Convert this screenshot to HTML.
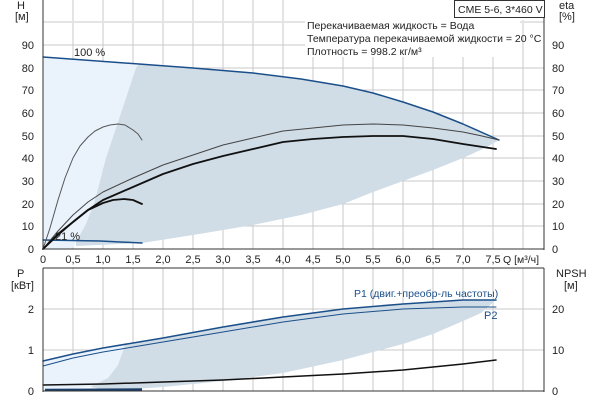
<!DOCTYPE html>
<html><head><meta charset="utf-8"><style>
body{margin:0;background:#fff;}
svg{display:block;font-family:"Liberation Sans",sans-serif;}
</style></head><body>
<svg width="600" height="400" viewBox="0 0 600 400">
<g stroke="#c8c8c8" stroke-width="1">
<line x1="73" y1="0" x2="73" y2="249"/><line x1="103" y1="0" x2="103" y2="249"/><line x1="133" y1="0" x2="133" y2="249"/><line x1="163" y1="0" x2="163" y2="249"/><line x1="193" y1="0" x2="193" y2="249"/><line x1="223" y1="0" x2="223" y2="249"/><line x1="253" y1="0" x2="253" y2="249"/><line x1="283" y1="0" x2="283" y2="249"/><line x1="313" y1="57" x2="313" y2="249"/><line x1="343" y1="57" x2="343" y2="249"/><line x1="373" y1="57" x2="373" y2="249"/><line x1="403" y1="57" x2="403" y2="249"/><line x1="433" y1="57" x2="433" y2="249"/><line x1="463" y1="57" x2="463" y2="249"/><line x1="493" y1="57" x2="493" y2="249"/><line x1="523" y1="20" x2="523" y2="249"/>
<line x1="43" y1="226" x2="544" y2="226"/><line x1="43" y1="204" x2="544" y2="204"/><line x1="43" y1="181" x2="544" y2="181"/><line x1="43" y1="158" x2="544" y2="158"/><line x1="43" y1="136" x2="544" y2="136"/><line x1="43" y1="113" x2="544" y2="113"/><line x1="43" y1="90" x2="544" y2="90"/><line x1="43" y1="68" x2="544" y2="68"/><line x1="43" y1="45" x2="305" y2="45"/>
</g>
<g stroke="#e4e4e4" stroke-width="2"><line x1="43" y1="22" x2="305" y2="22"/><line x1="520" y1="22" x2="544" y2="22"/></g>
<polygon points="43,57 139,64 136,68 121,113 106,158 94,204 85,226 76,242 72,249 43,249" fill="#eaf3fc"/>
<polygon points="139,64 193,68 253,73 301,79 343,86 373,93 403,102 433,112 463,124 499,140 487,147 463,158 433,170 403,181 373,192 343,204 301,215 253,225 193,235 142,243 76,246 76,242 85,226 94,204 106,158 121,113 136,68" fill="#d0dce6"/>
<g fill="none" stroke-linejoin="round" stroke-linecap="round">
<polyline points="43,57 139,64 193,68 253,73 301,79 343,86 373,93 403,102 433,112 463,124 499,140" stroke="#1b4f8a" stroke-width="1.5"/>
<polyline points="43,240 100,241 142,243" stroke="#1b4f8a" stroke-width="1.5"/>
<polyline points="43,249 50,228 58,200 65,178 73,158 80,146 88,137 95,131 103,127 110,125 118,124 125,125 133,130 138,134 142,140" stroke="#555" stroke-width="1"/>
<polyline points="43,249 58,235 73,222 88,210 103,203 113,200 124,199 133,200 142,204" stroke="#111" stroke-width="1.8"/>
<polyline points="43,249 58,231 73,215 88,202 103,192 133,178 163,165 193,155 223,145 253,138 283,131 313,128 343,125 373,124 403,125 433,128 463,132 482,136 499,140" stroke="#444" stroke-width="1"/>
<polyline points="43,249 58,234 73,222 88,210 103,200 133,187 163,174 193,164 223,156 253,149 283,142 313,139 343,137 373,136 403,136 433,139 463,144 496,149" stroke="#111" stroke-width="1.8"/>
</g>
<g stroke="#333" stroke-width="1"><line x1="43" y1="0" x2="43" y2="250"/><line x1="544" y1="0" x2="544" y2="250"/><line x1="43" y1="249" x2="544" y2="249"/></g>
<g font-size="11" fill="#222" text-anchor="end">
<text x="34" y="253">0</text><text x="34" y="230">10</text><text x="34" y="208">20</text><text x="34" y="185">30</text><text x="34" y="162">40</text><text x="34" y="140">50</text><text x="34" y="117">60</text><text x="34" y="94">70</text><text x="34" y="72">80</text><text x="34" y="49">90</text>
</g>
<g font-size="11" fill="#222"><text x="552" y="253">0</text><text x="552" y="230">10</text><text x="552" y="208">20</text><text x="552" y="185">30</text><text x="552" y="162">40</text><text x="552" y="140">50</text><text x="552" y="117">60</text><text x="552" y="94">70</text><text x="552" y="72">80</text><text x="552" y="49">90</text>
<text x="559" y="9">eta</text><text x="559" y="20">[%]</text><text x="17" y="9">H</text><text x="15" y="20">[м]</text>
<text x="74" y="56">100 %</text><text x="55" y="240">21 %</text>
</g>
<g font-size="10.5" fill="#222">
<text x="307" y="29">Перекачиваемая жидкость = Вода</text>
<text x="307" y="42">Температура перекачиваемой жидкости = 20 °C</text>
<text x="307" y="55">Плотность = 998.2 кг/м³</text>
</g>
<rect x="454.5" y="0.5" width="90" height="17" fill="#fff" stroke="#333"/>
<text x="458" y="13" font-size="10.5" fill="#222">CME 5-6, 3*460 V</text>
<g font-size="11" fill="#222" text-anchor="middle">
<text x="43" y="263">0</text><text x="73" y="263">0,5</text><text x="103" y="263">1,0</text><text x="133" y="263">1,5</text><text x="163" y="263">2,0</text><text x="193" y="263">2,5</text><text x="223" y="263">3,0</text><text x="253" y="263">3,5</text><text x="283" y="263">4,0</text><text x="313" y="263">4,5</text><text x="343" y="263">5,0</text><text x="373" y="263">5,5</text><text x="403" y="263">6,0</text><text x="433" y="263">6,5</text><text x="463" y="263">7,0</text><text x="493" y="263">7,5</text>
</g>
<text x="503" y="263" font-size="10.5" fill="#222">Q [м³/ч]</text>
<g stroke="#c8c8c8" stroke-width="1">
<line x1="73" y1="268" x2="73" y2="391"/><line x1="103" y1="268" x2="103" y2="391"/><line x1="133" y1="268" x2="133" y2="391"/><line x1="163" y1="268" x2="163" y2="391"/><line x1="193" y1="268" x2="193" y2="391"/><line x1="223" y1="268" x2="223" y2="391"/><line x1="253" y1="268" x2="253" y2="391"/><line x1="283" y1="268" x2="283" y2="391"/><line x1="313" y1="268" x2="313" y2="391"/><line x1="343" y1="268" x2="343" y2="391"/><line x1="373" y1="268" x2="373" y2="391"/><line x1="403" y1="268" x2="403" y2="391"/><line x1="433" y1="268" x2="433" y2="391"/><line x1="463" y1="268" x2="463" y2="391"/><line x1="493" y1="268" x2="493" y2="391"/><line x1="523" y1="268" x2="523" y2="391"/>
<line x1="43" y1="350" x2="544" y2="350"/><line x1="43" y1="309" x2="544" y2="309"/>
</g>
<polygon points="43,361 103,348 125,344 123,351 118,365 108,378 90,387 60,390 43,391" fill="#eaf3fc"/>
<polygon points="125,344 163,338 223,327 283,317 343,309 403,304 463,300 496,300 481,313 463,321 433,334 403,344 343,360 283,373 223,381 163,387 133,389 108,390 90,387 108,378 118,365 123,351" fill="#d0dce6"/>
<g fill="none" stroke-linejoin="round" stroke-linecap="round">
<polyline points="43,361 73,354 103,348 133,343 163,338 223,327 283,317 343,309 403,304 463,300 496,300" stroke="#1b4f8a" stroke-width="1.6"/>
<polyline points="43,366 73,358 103,352 133,347 163,342 223,332 283,322 343,314 403,309 463,307 496,307" stroke="#1b4f8a" stroke-width="1"/>
<polyline points="43,385 103,384 163,382 223,380 283,377 343,374 403,370 463,364 496,360" stroke="#111" stroke-width="1.5"/>
</g>
<path d="M45,390 L142,389.5" stroke="#1b3f6a" stroke-width="2.5"/>
<g stroke="#333" stroke-width="1"><line x1="43" y1="268" x2="43" y2="392"/><line x1="544" y1="268" x2="544" y2="392"/><line x1="43" y1="268" x2="544" y2="268"/><line x1="43" y1="391" x2="544" y2="391"/></g>
<g font-size="11" fill="#222">
<text x="34" y="313" text-anchor="end">2</text><text x="34" y="354" text-anchor="end">1</text><text x="34" y="395" text-anchor="end">0</text>
<text x="552" y="313">20</text><text x="552" y="354">10</text><text x="552" y="395">0</text>
<text x="17" y="277">P</text><text x="11" y="289">[кВт]</text>
<text x="556" y="277">NPSH</text><text x="564" y="289">[м]</text>
</g>
<text x="354" y="297" font-size="10.5" fill="#1b4f8a">P1 (двиг.+преобр-ль частоты)</text>
<text x="484" y="319" font-size="11" fill="#1b4f8a">P2</text>
</svg>
</body></html>
